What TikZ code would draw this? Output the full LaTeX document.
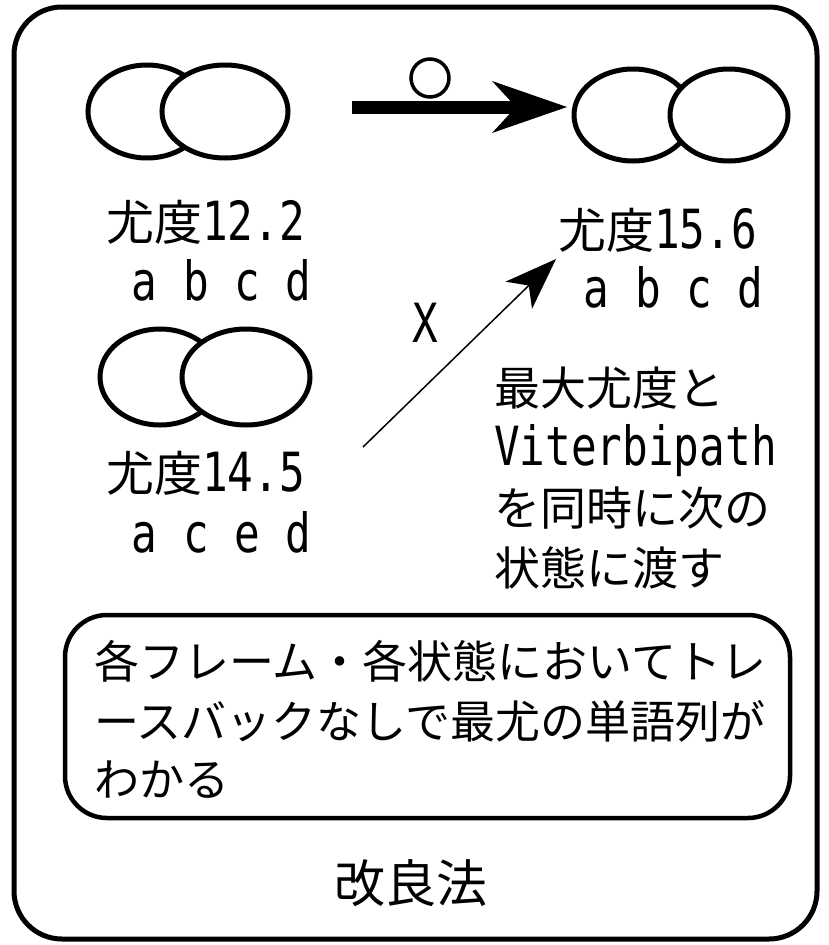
\documentclass[tikz,border=0pt]{standalone}
\usepackage{fontspec}
\usetikzlibrary{shapes.geometric,arrows.meta}
\newfontfamily\jpf{Noto Sans CJK JP}
\newfontfamily\ltf[FakeStretch=0.79]{DejaVu Sans Mono}
\newcommand\jpsz[1]{\jpf\fontsize{#1}{#1}\selectfont}
\newcommand\ltx[1]{{\ltf\fontsize{54}{54}\selectfont #1}}
\tikzset{
  ell/.style={ellipse, draw, fill=white, line width=5pt, inner sep=0pt},
  lbl/.style={anchor=base west, inner sep=0pt, font=\jpsz{48}},
  rtxt/.style={anchor=base west, inner sep=0pt, font=\jpsz{46}},
  bigarrow/.style={line width=13pt, -{Stealth[length=75pt,width=52pt,inset=24pt,line width=0pt]}},
  thinarrow/.style={line width=1.5pt, -{Stealth[length=52pt,width=38pt,inset=14pt,line width=0pt]}},
}
\begin{document}
\begin{tikzpicture}[x=1pt,y=-1pt]
\useasboundingbox (0,0) rectangle (828,945);
% outer frame
\draw[line width=5pt, rounded corners=48pt] (14,7) rectangle (817,939);
% ellipses
\node[ell, minimum width=118pt, minimum height=93pt] (e1) at (147,111.5) {};
\node[ell, minimum width=126pt, minimum height=93pt] (e2) at (225,111.5) {};
\node[ell, minimum width=118pt, minimum height=92pt] (e3) at (633,115) {};
\node[ell, minimum width=118pt, minimum height=92pt] (e4) at (729,115) {};
\node[ell, minimum width=120pt, minimum height=96pt] (e5) at (160,377) {};
\node[ell, minimum width=128pt, minimum height=96pt] (e6) at (246,377) {};
% thick arrow with circle
\coordinate (a1) at (352,107);
\coordinate (a2) at (567,107);
\draw[bigarrow] (a1) -- (a2);
\node[circle, draw, line width=3.5pt, minimum size=38pt, inner sep=0pt] (c) at (430,78) {};
% labels left
\node[lbl] (l1) at (106,240) {尤度\ltx{12.2}};
\node[lbl] (l2) at (106,300) {\ltx{\ a b c d}};
\node[lbl] (l3) at (106,491) {尤度\ltx{14.5}};
\node[lbl] (l4) at (106,552) {\ltx{\ a c e d}};
% labels right
\node[lbl] (r1) at (558,248) {尤度\ltx{15.6}};
\node[lbl] (r2) at (558,307) {\ltx{\ a b c d}};
% X and thin arrow
\node[inner sep=0pt] (x) at (425,323) {\ltx{X}};
\coordinate (b1) at (363,447);
\coordinate (b2) at (556,259);
\draw[thinarrow] (b1) -- (b2);
% right text
\node[rtxt] (t1) at (494,405) {最大尤度と};
\node[rtxt] (t2) at (494,465) {\ltx{Viterbipath}};
\node[rtxt] (t3) at (494,525) {を同時に次の};
\node[rtxt] (t4) at (494,585) {状態に渡す};
% inner box
\draw[line width=4.5pt, rounded corners=42pt] (65,615) rectangle (790,818);
\node[anchor=base west, inner sep=0pt, font=\jpsz{45}] (m1) at (94,678) {各フレーム・各状態においてトレ};
\node[anchor=base west, inner sep=0pt, font=\jpsz{45}] (m2) at (94,738) {ースバックなしで最尤の単語列が};
\node[anchor=base west, inner sep=0pt, font=\jpsz{45}] (m3) at (94,796) {わかる};
% bottom title
\node[anchor=base, inner sep=0pt, font=\jpsz{51}] (title) at (411,902) {改良法};
\end{tikzpicture}
\end{document}
